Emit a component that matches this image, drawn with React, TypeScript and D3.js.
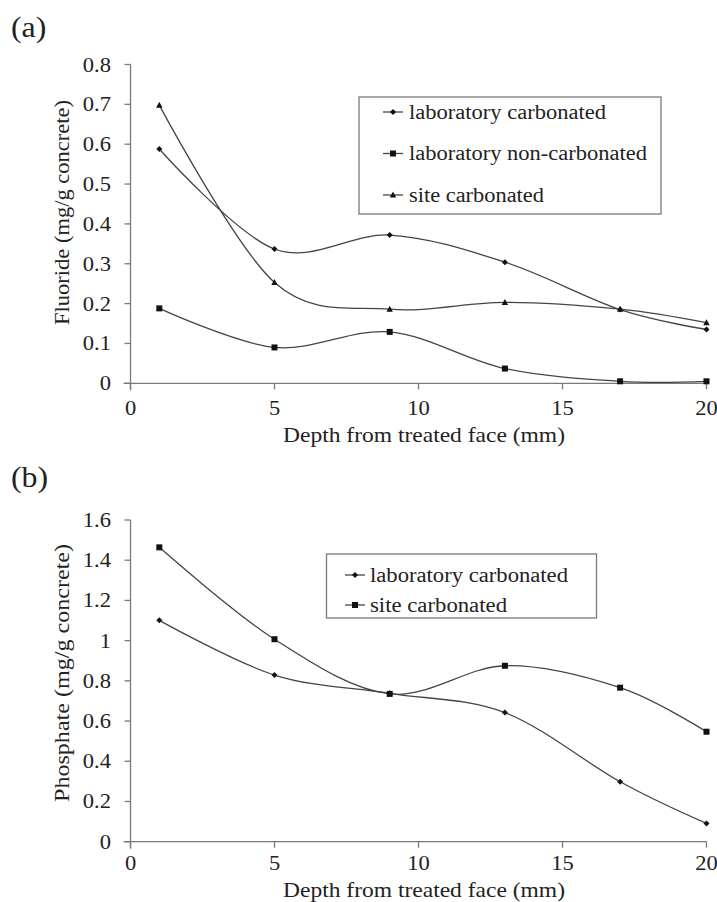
import React from "react";
import * as d3 from "d3";

const depth = [1, 5, 9, 13, 17, 20];
const fluorideLabCarb = [0.588, 0.337, 0.372, 0.304, 0.185, 0.135];
const fluorideLabNonCarb = [0.188, 0.09, 0.129, 0.037, 0.005, 0.005];
const fluorideSiteCarb = [0.698, 0.253, 0.186, 0.203, 0.186, 0.152];
const phosphateLabCarb = [1.101, 0.829, 0.738, 0.642, 0.298, 0.091];
const phosphateSiteCarb = [1.464, 1.007, 0.735, 0.875, 0.766, 0.547];

const xTicks = [0, 5, 10, 15, 20];
const fluorideTicks = [0, 0.1, 0.2, 0.3, 0.4, 0.5, 0.6, 0.7, 0.8];
const phosphateTicks = [0, 0.2, 0.4, 0.6, 0.8, 1, 1.2, 1.4, 1.6];

const xTitle = "Depth from treated face (mm)";

const FONT = "Liberation Serif, DejaVu Serif, serif";
const AXIS = "#7a7a7a";
const LINE = "#444";
const MARK = "#111";
const SX = 1.1;

type Shape = "diamond" | "square" | "triangle";

function Marker({ x, y, shape }: { x: number; y: number; shape: Shape }) {
  if (shape === "square") return <rect x={x - 3} y={y - 3} width={6} height={6} fill={MARK} />;
  if (shape === "triangle")
    return <path d={`M${x},${y - 3.5}L${x + 3.2},${y + 2.5}L${x - 3.2},${y + 2.5}Z`} fill={MARK} />;
  return <path d={`M${x},${y - 3}L${x + 3},${y}L${x},${y + 3}L${x - 3},${y}Z`} fill={MARK} />;
}

function T({ x, y, size, anchor, children }: { x: number; y: number; size: number; anchor?: string; children: React.ReactNode }) {
  return (
    <text transform={`translate(${x},${y}) scale(${SX},1)`} fontSize={size} textAnchor={anchor || "start"} fill="#222">
      {children}
    </text>
  );
}

type Series = { name: string; values: number[]; shape: Shape; len: number };

function Panel({
  label, labelY, yTitle, yTitleLen, yTicks, yMax, top, bottom, series, tickFmt,
  legend, tickLabelDy, titleY, yTitleCenter,
}: {
  label: string; labelY: number; yTitle: string; yTitleLen: number; yTicks: number[]; yMax: number;
  top: number; bottom: number; series: Series[]; tickFmt: (v: number) => string;
  legend: { x: number; y: number; w: number; h: number; first: number; step: number; lx: number; tx: number };
  tickLabelDy: number; titleY: number; yTitleCenter: number;
}) {
  const x = d3.scaleLinear().domain([0, 20]).range([130.5, 706.5]);
  const y = d3.scaleLinear().domain([0, yMax]).range([bottom, top]);
  const line = d3
    .line<[number, number]>()
    .x((d) => x(d[0]))
    .y((d) => y(d[1]))
    .curve(d3.curveCardinal.tension(0));
  return (
    <g style={{ fontFamily: FONT }}>
      <T x={11} y={labelY} size={29}>{label}</T>
      <line x1={x(0)} x2={x(0)} y1={y(yMax)} y2={y(0) + 7} stroke={AXIS} strokeWidth={1.3} />
      <line x1={x(0) - 7} x2={x(20)} y1={y(0)} y2={y(0)} stroke={AXIS} strokeWidth={1.3} />
      {yTicks.map((t) => (
        <g key={"y" + t}>
          <line x1={x(0) - 6} x2={x(0)} y1={y(t)} y2={y(t)} stroke={AXIS} strokeWidth={1.3} />
          <T x={111} y={y(t) + 7} size={20.5} anchor="end">{tickFmt(t)}</T>
        </g>
      ))}
      {xTicks.map((t) => (
        <g key={"x" + t}>
          <line x1={x(t)} x2={x(t)} y1={y(0)} y2={y(0) + 6} stroke={AXIS} strokeWidth={1.3} />
          <T x={x(t)} y={y(0) + tickLabelDy} size={20.5} anchor="middle">{t}</T>
        </g>
      ))}
      <text x={424} y={titleY} textAnchor="middle" fontSize={21} fill="#222" textLength={282} lengthAdjust="spacingAndGlyphs">
        {xTitle}
      </text>
      <text
        transform={`translate(69,${yTitleCenter}) rotate(-90)`}
        textAnchor="middle" fontSize={21} fill="#222" textLength={yTitleLen} lengthAdjust="spacingAndGlyphs"
      >
        {yTitle}
      </text>
      {series.map((s) => {
        const pts = depth.map((d, i) => [d, s.values[i]] as [number, number]);
        return (
          <g key={s.name}>
            <path d={line(pts) || ""} fill="none" stroke={LINE} strokeWidth={1.3} />
            {pts.map((p, i) => (
              <Marker key={i} x={x(p[0])} y={y(p[1])} shape={s.shape} />
            ))}
          </g>
        );
      })}
      <rect x={legend.x} y={legend.y} width={legend.w} height={legend.h} fill="white" stroke={AXIS} strokeWidth={1.3} />
      {series.map((s, i) => {
        const cy = legend.first + i * legend.step;
        return (
          <g key={"lg" + s.name}>
            <line x1={legend.lx} x2={legend.lx + 20} y1={cy} y2={cy} stroke={LINE} strokeWidth={1.3} />
            <Marker x={legend.lx + 10} y={cy} shape={s.shape} />
            <text x={legend.tx} y={cy + 6.5} fontSize={20.5} fill="#222" textLength={s.len} lengthAdjust="spacingAndGlyphs">
              {s.name}
            </text>
          </g>
        );
      })}
    </g>
  );
}

export default function App() {
  return (
    <svg
      width={717}
      height={902}
      style={{ position: "absolute", left: 0, top: 0, background: "white" }}
    >
      <rect width={717} height={902} fill="white" />
      <Panel
        label="(a)" labelY={37} yTitle="Fluoride (mg/g concrete)" yTitleLen={225} yTicks={fluorideTicks} yMax={0.8}
        top={64.5} bottom={383.3}
        series={[
          { name: "laboratory carbonated", values: fluorideLabCarb, shape: "diamond", len: 197 },
          { name: "laboratory non-carbonated", values: fluorideLabNonCarb, shape: "square", len: 238 },
          { name: "site carbonated", values: fluorideSiteCarb, shape: "triangle", len: 135 },
        ]}
        tickFmt={(v) => (v === 0 ? "0" : d3.format(".1f")(v))}
        legend={{ x: 359, y: 97, w: 302, h: 117, first: 112, step: 41.5, lx: 383, tx: 409 }}
        tickLabelDy={32} titleY={442} yTitleCenter={212.5}
      />
      <Panel
        label="(b)" labelY={487} yTitle="Phosphate (mg/g concrete)" yTitleLen={258} yTicks={phosphateTicks} yMax={1.6}
        top={520} bottom={841.7}
        series={[
          { name: "laboratory carbonated", values: phosphateLabCarb, shape: "diamond", len: 198 },
          { name: "site carbonated", values: phosphateSiteCarb, shape: "square", len: 137 },
        ]}
        tickFmt={(v) => (Number.isInteger(v) ? String(v) : d3.format(".1f")(v))}
        legend={{ x: 326.5, y: 554, w: 270, h: 64, first: 575, step: 30, lx: 345, tx: 370 }}
        tickLabelDy={28} titleY={897} yTitleCenter={673}
      />
    </svg>
  );
}
